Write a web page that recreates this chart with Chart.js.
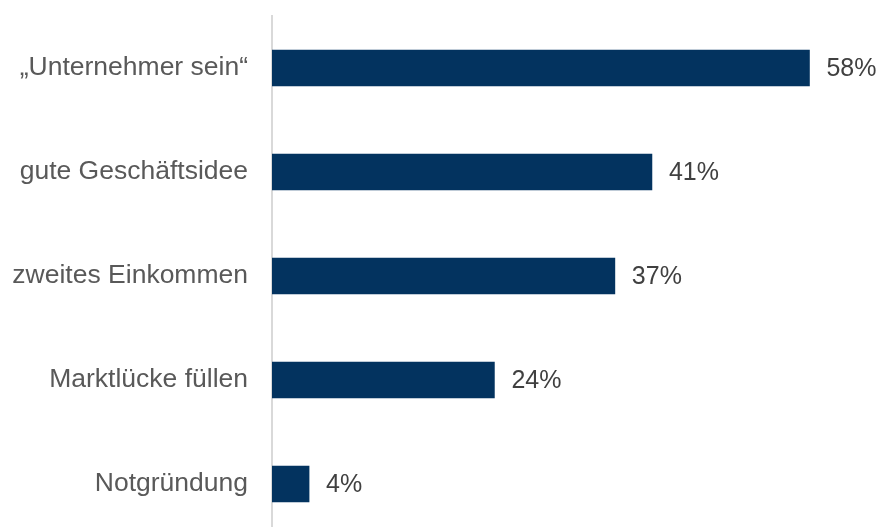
<!DOCTYPE html>
<html>
<head>
<meta charset="utf-8">
<script src="https://cdn.jsdelivr.net/npm/chart.js@4.4.1/dist/chart.umd.min.js"></script>
<style>
  html, body { margin: 0; padding: 0; background: #fff; overflow: hidden; }
  canvas { display: block; }
</style>
</head>
<body>
<canvas id="barChart" width="880" height="540"></canvas>
<script>
    // Gründungsmotive in Prozent
    const categories = ['„Unternehmer sein“', 'gute Geschäftsidee', 'zweites Einkommen', 'Marktlücke füllen', 'Notgründung'];
    const shares = [58, 41, 37, 24, 4];

    const fontFamily = '"Liberation Sans", Arial, sans-serif';

    // Prozentwerte rechts neben den Balken
    const valueLabels = {
        id: 'valueLabels',
        afterDatasetsDraw(chart) {
            const ctx = chart.ctx;
            const meta = chart.getDatasetMeta(0);
            ctx.save();
            ctx.font = '25px ' + fontFamily;
            ctx.fillStyle = '#404040';
            ctx.textAlign = 'left';
            ctx.textBaseline = 'middle';
            meta.data.forEach((bar, i) => {
                ctx.fillText(shares[i] + '%', bar.x + 17, bar.y + 1);
            });
            ctx.restore();
        }
    };

    const config = {
        type: 'bar',
        data: {
            labels: categories,
            datasets: [{
                data: shares,
                backgroundColor: '#03335f',
                borderWidth: 0,
                barThickness: 36
            }]
        },
        options: {
            indexAxis: 'y',
            responsive: false,
            animation: false,
            layout: { padding: { top: 16, right: 52, bottom: 4, left: 0 } },
            plugins: {
                legend: { display: false },
                tooltip: { enabled: false }
            },
            scales: {
                x: {
                    display: false,
                    min: 0,
                    max: 60
                },
                y: {
                    afterFit(scale) {
                        scale.width = 272;
                        scale.paddingTop = 0;
                        scale.paddingBottom = 0;
                    },
                    grid: { display: false, drawTicks: false },
                    border: { display: true, color: '#d9d9d9', width: 2 },
                    ticks: {
                        padding: 24,
                        color: '#595959',
                        font: { family: fontFamily, size: 26.5 }
                    }
                }
            }
        },
        plugins: [valueLabels]
    };

    const barChart = new Chart(document.getElementById('barChart'), config);
</script>
</body>
</html>
